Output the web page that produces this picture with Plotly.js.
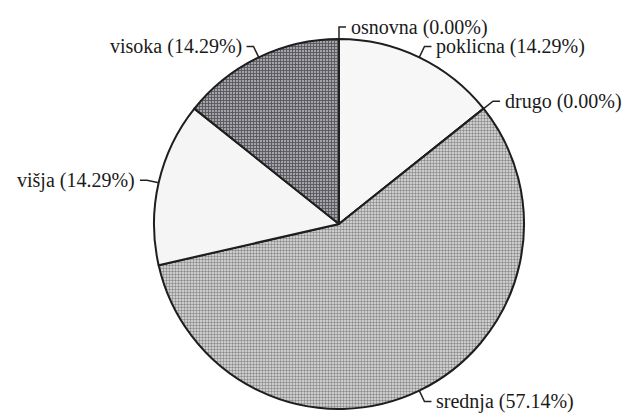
<!DOCTYPE html>
<html>
<head>
<meta charset="utf-8">
<script src="https://cdn.plot.ly/plotly-3.0.1.min.js"></script>
<style>html,body{margin:0;padding:0;background:#fff;}#chart{width:634px;height:418px;}</style>
</head>
<body>
<div id="chart"></div>
<script>
// Data
const labels = ["osnovna", "poklicna", "drugo", "srednja", "višja", "visoka"];
const values = [0, 1, 0, 4, 1, 1];
const percentText = ["0.00%", "14.29%", "0.00%", "57.14%", "14.29%", "14.29%"];

// Styles
const fillColors = ["#f7f7f7", "#f7f7f7", "#c4c4c4", "#c6c6c6", "#f5f5f5", "#7e7e83"];
const patShapes = ["", "", ".", ".", "", "+"];
const patFg = ["#ffffff", "#ffffff", "#8a8a8a", "#8a8a8a", "#ffffff", "#55555b"];
const patBg = ["#f7f7f7", "#f7f7f7", "#e2e2e2", "#e2e2e2", "#f5f5f5", "#a4a4a8"];

const W = 634, H = 418;
const m = {l: 154, r: 110, t: 39, b: 9};
const pw = W - m.l - m.r, ph = H - m.t - m.b;
const cx = m.l + pw / 2, cy = m.t + ph / 2, R = Math.min(pw, ph) / 2;
const toX = px => (px - m.l) / pw;
const toY = py => (H - m.b - py) / ph;

const total = values.reduce((a, b) => a + b, 0);
const annotations = [];
const shapes = [];
let cum = 0;
const radialOff = 12, horiz = 7, gap = 3;
for (let i = 0; i < labels.length; i++) {
  const mid = (cum + values[i] / 2) / total * 2 * Math.PI;
  cum += values[i];
  const s = Math.sin(mid), c = Math.cos(mid);
  const ax = cx + R * s, ay = cy - R * c;
  const ex = cx + (R + radialOff) * s, ey = cy - (R + radialOff) * c;
  const right = s >= -1e-9;
  const hx = ex + (right ? horiz : -horiz);
  shapes.push({type: "path", xref: "paper", yref: "paper",
    path: `M ${toX(ax)} ${toY(ay)} L ${toX(ex)} ${toY(ey)} L ${toX(hx)} ${toY(ey)}`,
    line: {color: "#222", width: 1.5}});
  annotations.push({xref: "paper", yref: "paper",
    x: toX(hx + (right ? gap : -gap)), y: toY(ey),
    xanchor: right ? "left" : "right", yanchor: "middle",
    text: `${labels[i]} (${percentText[i]})`, showarrow: false,
    font: {family: "Liberation Serif", size: 20, color: "#1a1a1a"}});
}

const trace = {
  type: "pie", labels: labels, values: values, sort: false,
  direction: "clockwise", rotation: 0, textinfo: "none", hoverinfo: "none",
  marker: {colors: fillColors, line: {color: "#1e1e1e", width: 2},
    pattern: {shape: patShapes, fgcolor: patFg, bgcolor: patBg, size: 3, solidity: 0.5, fillmode: "replace"}},
  showlegend: false
};

Plotly.newPlot("chart", [trace], {
  width: W, height: H, margin: m, paper_bgcolor: "#fff", plot_bgcolor: "#fff",
  showlegend: false, annotations: annotations, shapes: shapes
}, {staticPlot: true});
</script>
</body>
</html>
